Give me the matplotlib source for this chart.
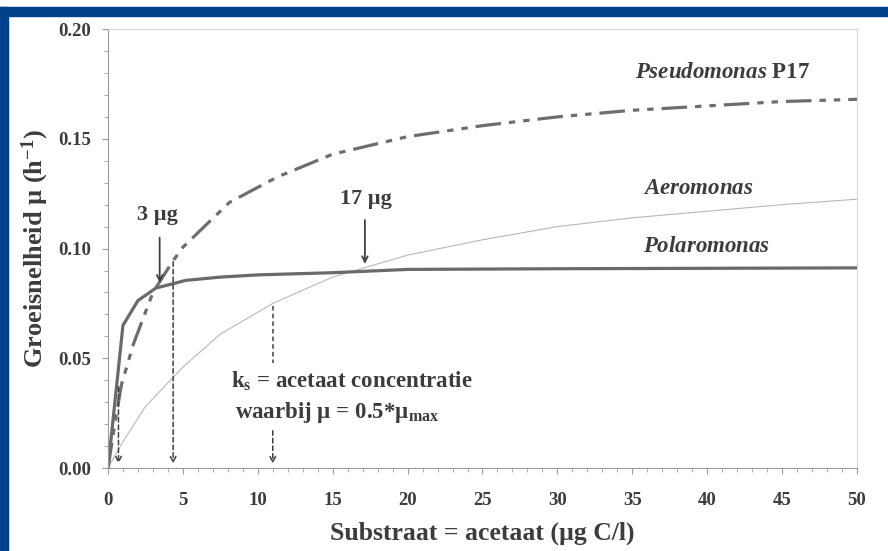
import numpy as np
import matplotlib
matplotlib.use("Agg")
import matplotlib.pyplot as plt
from matplotlib.patches import Rectangle
from matplotlib.ticker import MultipleLocator

plt.rcParams['font.family'] = ['Liberation Serif', 'DejaVu Serif']
plt.rcParams['font.weight'] = 'bold'
plt.rcParams['mathtext.fontset'] = 'custom'
plt.rcParams['mathtext.rm'] = 'Liberation Serif:bold'
plt.rcParams['mathtext.it'] = 'Liberation Serif:italic:bold'
plt.rcParams['mathtext.bf'] = 'Liberation Serif:bold'

# data
polaro_x = [0, 1.0, 2.0, 3.2, 5.2, 7.5, 10, 15, 20, 30, 40, 50]
polaro_y = [0, 0.065, 0.0763, 0.082, 0.0855, 0.087, 0.088, 0.089, 0.0905, 0.0908, 0.091, 0.0912]

pseudo_x = [0, 0.5, 0.9, 1.7, 3.0, 4.3, 5.0, 8.1, 11.3, 15, 20, 25, 30, 35, 40, 45, 50]
pseudo_y = [0, 0.022, 0.038, 0.0565, 0.08, 0.094, 0.1006, 0.121, 0.1326, 0.143, 0.151, 0.156, 0.160, 0.163, 0.165, 0.167, 0.168]

aero_x = [0, 1, 2.5, 5, 7.5, 10, 11, 15, 17, 20, 25, 30, 35, 40, 45, 50]
aero_y = [0, 0.012, 0.028, 0.046, 0.061, 0.071, 0.075, 0.087, 0.091, 0.097, 0.104, 0.110, 0.114, 0.117, 0.120, 0.1225]

# ks markers (dashed arrows): x position, top of arrow
ks_x = [0.7, 4.35, 11.0]
ks_top = [0.037, 0.094, 0.074]

txt = '#3c3c3c'

fig = plt.figure(figsize=(8.88, 5.51), dpi=100)
ax = fig.add_axes([0.1216, 0.1506, 0.8435, 0.7966])

# blue frame
fig.patches.append(Rectangle((0, 1 - 16 / 551), 1, 9 / 551, transform=fig.transFigure,
                             color='#00418c', zorder=0))
fig.patches.append(Rectangle((0, 0), 8 / 888, 1 - 7 / 551, transform=fig.transFigure,
                             color='#00418c', zorder=0))

ax.plot(aero_x, aero_y, color='#b8b8b8', lw=0.8)
ax.plot(pseudo_x, pseudo_y, color='#6e6e6e', lw=2.3, dashes=(8, 2.5, 2, 2.5, 2, 2.5))
ax.plot(polaro_x, polaro_y, color='#6a6a6a', lw=2.3)

# dashed arrows
arr = dict(arrowstyle='->', color='#404040', lw=1.1, linestyle=(0, (3, 2)), shrinkA=0, shrinkB=0)
ax.annotate('', xy=(ks_x[0], 0.002), xytext=(ks_x[0], ks_top[0]), arrowprops=arr)
ax.annotate('', xy=(ks_x[1], 0.002), xytext=(ks_x[1], ks_top[1]), arrowprops=arr)
ax.annotate('', xy=(ks_x[2], 0.002), xytext=(ks_x[2], 0.017), arrowprops=arr)
ax.plot([ks_x[2], ks_x[2]], [ks_top[2], 0.048], color='#404040', lw=1.1, ls=(0, (3, 2)))

# solid arrows
sarr = dict(arrowstyle='->', color='#404040', lw=1.3, shrinkA=0, shrinkB=0)
ax.annotate('', xy=(3.45, 0.0845), xytext=(3.45, 0.105), arrowprops=sarr)
ax.annotate('', xy=(17.15, 0.093), xytext=(17.15, 0.113), arrowprops=sarr)
ax.text(3.3, 0.1155, '3 µg', fontsize=16, color=txt, ha='center', va='center')
ax.text(17.2, 0.1225, '17 µg', fontsize=16, color=txt, ha='center', va='center')

ax.text(35.2, 0.180, r'$\mathit{Pseudomonas}$ P17', fontsize=16.5, color=txt, va='center')
ax.text(35.7, 0.1275, r'$\mathit{Aeromonas}$', fontsize=16.5, color=txt, va='center')
ax.text(35.7, 0.101, r'$\mathit{Polaromonas}$', fontsize=16.5, color=txt, va='center')

ax.text(16.3, 0.0395, r'k$_\mathrm{s}$ = acetaat concentratie', fontsize=16.5, color=txt,
        ha='center', va='center')
ax.text(15.3, 0.0255, r'waarbij µ = 0.5*µ$_\mathrm{max}$', fontsize=16.5, color=txt,
        ha='center', va='center')

ax.set_xlim(0, 50)
ax.set_ylim(0, 0.20)
ax.xaxis.set_major_locator(MultipleLocator(5))
ax.xaxis.set_minor_locator(MultipleLocator(1))
ax.yaxis.set_major_locator(MultipleLocator(0.05))
ax.yaxis.set_minor_locator(MultipleLocator(0.01))
ax.set_yticks([0, 0.05, 0.10, 0.15, 0.20])
ax.set_yticklabels(['0.00', '0.05', '0.10', '0.15', '0.20'])

ax.tick_params(axis='both', which='both', direction='out', color='#9a9a9a', labelcolor=txt,
               labelsize=13.5)
ax.tick_params(axis='x', which='major', length=4, pad=13)
ax.tick_params(axis='x', which='minor', length=3)
ax.tick_params(axis='y', which='major', length=4, pad=8)
ax.tick_params(axis='y', which='minor', length=3)

ax.spines['left'].set_color('#9a9a9a')
ax.spines['bottom'].set_color('#9a9a9a')
ax.spines['top'].set_color('#d8d8d8')
ax.spines['right'].set_color('#d8d8d8')

ax.set_xlabel('Substraat = acetaat (µg C/l)', fontsize=18.5, fontweight='bold', color=txt,
              labelpad=9)
ax.set_ylabel(r'Groeisnelheid µ (h$^\mathrm{-1}$)', fontsize=19, fontweight='bold', color=txt,
              labelpad=5)

fig.savefig('out.png', dpi=100)
